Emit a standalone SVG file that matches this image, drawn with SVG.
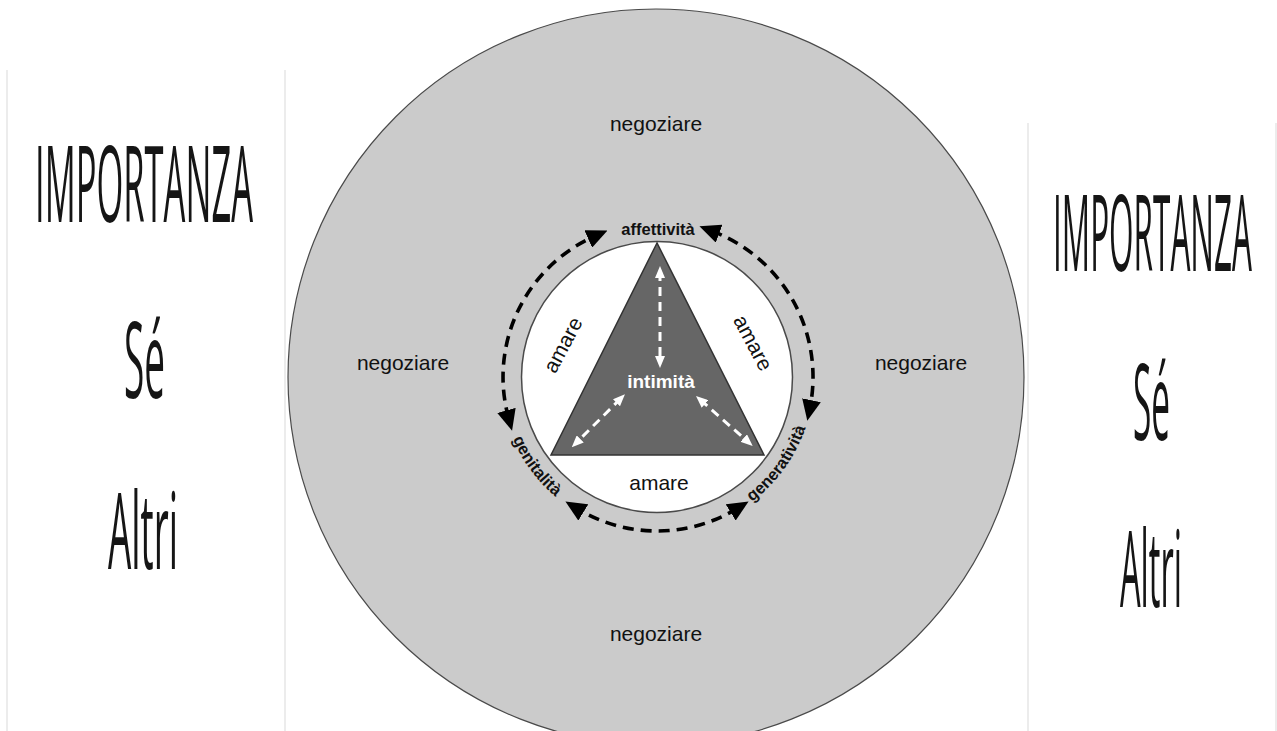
<svg xmlns="http://www.w3.org/2000/svg" width="1277" height="731" viewBox="0 0 1277 731">
  <style>
    .neg { font-family: "Liberation Sans", Arial, sans-serif; font-size: 21px; fill: #111; text-anchor: middle; }
    .ama { font-family: "Liberation Sans", Arial, sans-serif; font-size: 21px; fill: #111; text-anchor: middle; }
    .lbl { font-family: "Liberation Sans", Arial, sans-serif; font-size: 16.5px; font-weight: bold; fill: #111; }
    .big { font-family: "Open Sans", "Liberation Sans", sans-serif; font-size: 106px; fill: #151515; }
    .frame { stroke: #ececec; stroke-width: 2; fill: none; }
    .blk { fill: none; stroke: #000; stroke-width: 3.6; stroke-dasharray: 11 7; marker-start: url(#bh); marker-end: url(#bh); }
    .wht { fill: none; stroke: #fff; stroke-width: 3; stroke-dasharray: 9 6; marker-start: url(#wh); marker-end: url(#wh); }
  </style>
  <defs>
    <marker id="bh" markerUnits="userSpaceOnUse" markerWidth="21" markerHeight="19" viewBox="0 0 21 19" refX="8" refY="9.5" orient="auto-start-reverse">
      <path d="M0,0 L21,9.5 L0,19 z" fill="#000"/>
    </marker>
    <marker id="wh" markerUnits="userSpaceOnUse" markerWidth="12" markerHeight="10" viewBox="0 0 12 10" refX="6" refY="5" orient="auto-start-reverse">
      <path d="M0,0 L12,5 L0,10 z" fill="#fff"/>
    </marker>
    <path id="lowerArc" d="M502.4,404.3 A157,157 0 0 0 811.6,404.3"/>
  </defs>

  <rect x="0" y="0" width="1277" height="731" fill="#fff"/>

  <g id="frames">
    <line class="frame" x1="7" y1="70" x2="7" y2="731"/>
    <line class="frame" x1="285" y1="70" x2="285" y2="731"/>
    <line class="frame" x1="1028" y1="123" x2="1028" y2="731"/>
    <line class="frame" x1="1276" y1="123" x2="1276" y2="731"/>
  </g>

  <g id="left-column">
    <text class="big" x="35" y="222" textLength="218" lengthAdjust="spacingAndGlyphs">IMPORTANZA</text>
    <text class="big" x="124" y="398" textLength="41" lengthAdjust="spacingAndGlyphs">Sé</text>
    <text class="big" x="108" y="569" textLength="70" lengthAdjust="spacingAndGlyphs">Altri</text>
  </g>

  <g id="right-column">
    <text class="big" x="1053" y="271" textLength="199" lengthAdjust="spacingAndGlyphs">IMPORTANZA</text>
    <text class="big" x="1133" y="440" textLength="37" lengthAdjust="spacingAndGlyphs">Sé</text>
    <text class="big" x="1120" y="607" textLength="62" lengthAdjust="spacingAndGlyphs">Altri</text>
  </g>

  <g id="outer-circle">
    <circle cx="656" cy="377" r="368" fill="#cbcbcb" stroke="#4a4a4a" stroke-width="1.2"/>
    <text class="neg" x="656" y="131">negoziare</text>
    <text class="neg" x="403" y="370">negoziare</text>
    <text class="neg" x="921" y="370">negoziare</text>
    <text class="neg" x="656" y="641">negoziare</text>
  </g>

  <g id="inner-circle">
    <circle cx="657" cy="377" r="135.5" fill="#fff" stroke="#4a4a4a" stroke-width="1.5"/>
    <text class="ama" transform="translate(563,345) rotate(-62)" x="0" y="7">amare</text>
    <text class="ama" transform="translate(753,343) rotate(62)" x="0" y="7">amare</text>
    <text class="ama" x="659" y="490">amare</text>
  </g>

  <g id="triangle">
    <polygon points="657,243 551,455 764,455" fill="#666" stroke="#333" stroke-width="1.5"/>
    <text x="661" y="388" font-family="Liberation Sans, Arial, sans-serif" font-size="19" font-weight="bold" fill="#fff" text-anchor="middle">intimità</text>
  </g>

  <g id="labels">
    <text class="lbl" x="658" y="235" text-anchor="middle">affettività</text>
    <text class="lbl"><textPath href="#lowerArc" startOffset="72.5" text-anchor="middle">genitalità</textPath></text>
    <text class="lbl"><textPath href="#lowerArc" startOffset="367.5" text-anchor="middle">generatività</textPath></text>
  </g>

  <g id="connectors">
    <path class="blk" d="M508.6,418.1 A154,154 0 0 1 595.6,235.8"/>
    <path class="blk" d="M711.6,230.9 A156,156 0 0 1 809.9,408.1"/>
    <path class="blk" d="M737.5,508.3 A154,154 0 0 1 576.5,508.3"/>
    <line class="wht" x1="660" y1="272" x2="660" y2="362"/>
    <line class="wht" x1="620.7" y1="398.5" x2="576" y2="443.1"/>
    <line class="wht" x1="700.5" y1="400" x2="748.2" y2="442"/>
  </g>
</svg>
